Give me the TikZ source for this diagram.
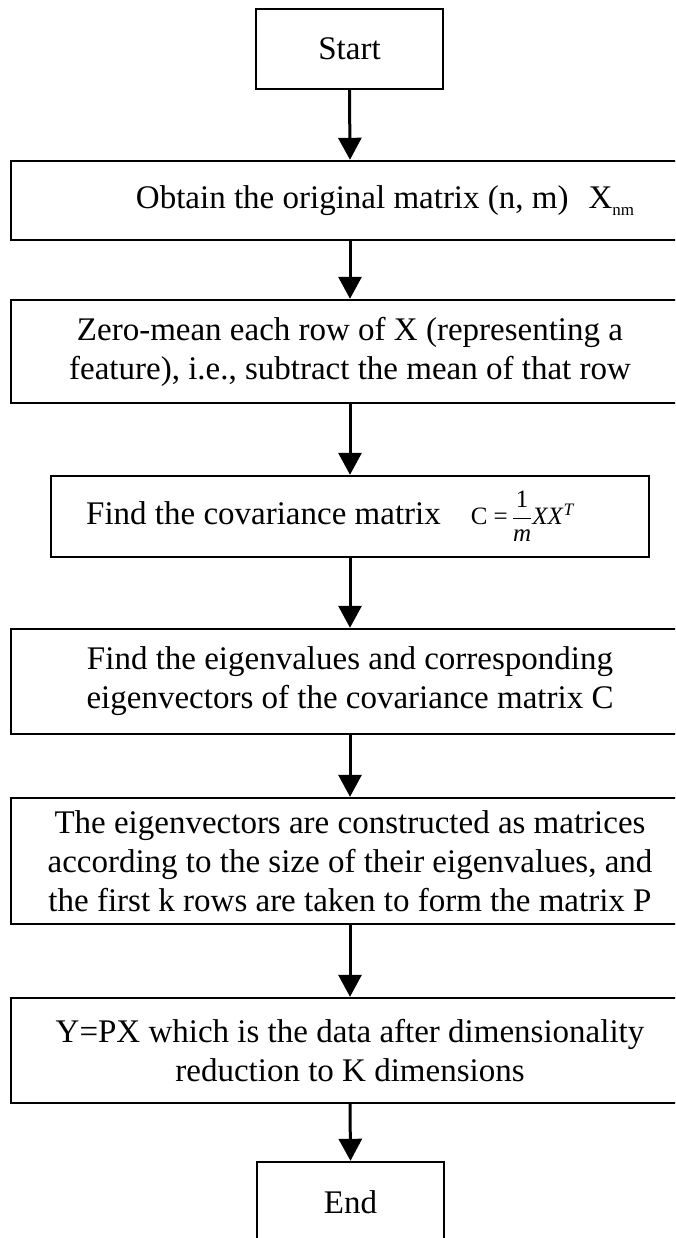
\documentclass[tikz,border=0pt]{standalone}
\usepackage{fontspec}
\setmainfont{Liberation Serif}
\usetikzlibrary{arrows.meta}
\begin{document}
\begin{tikzpicture}[x=1pt,y=-1pt,
  stepbox/.style={draw, line width=2.4pt, inner sep=0pt, align=center,
    font=\fontsize{33}{39}\selectfont},
  termbox/.style={stepbox, minimum width=187pt, minimum height=80pt},
  widebox/.style={stepbox, minimum width=678pt},
  flow/.style={line width=3pt, -{Triangle[length=22pt,width=23pt]}}]
\useasboundingbox (0,0) rectangle (675,1238);
\clip (0,0) rectangle (675,1238);
\fill[white] (0,0) rectangle (675,1238);

\node[termbox] (start) at (349.5,49) {Start};
\node[widebox, minimum height=79pt] (obtain) at (350,200.5)
  {\hspace*{70pt}Obtain the original matrix (n, m)\hspace{20pt}X\raisebox{-7pt}{\fontsize{17}{17}\selectfont nm}};
\node[widebox, minimum height=103pt] (zero) at (350,351.5)
  {Zero-mean each row of X (representing a\\feature), i.e., subtract the mean of that row};
\node[stepbox, minimum width=598pt, minimum height=81pt] (cov) at (350,516.5)
  {Find the covariance matrix\hspace{30pt}{\fontsize{25}{25}\selectfont C =\hspace{4pt}$\displaystyle\frac{\mbox{1}}{\mbox{\itshape m}}$\textit{XX}\textsuperscript{\itshape T}}\hspace*{40pt}};
\node[widebox, minimum height=105pt] (eig) at (350,681.5)
  {Find the eigenvalues and corresponding\\eigenvectors of the covariance matrix C};
\node[widebox, minimum height=126pt] (mat) at (350,861)
  {The eigenvectors are constructed as matrices\\according to the size of their eigenvalues, and\\the first k rows are taken to form the matrix P};
\node[widebox, minimum height=105pt] (proj) at (350,1050.5)
  {Y=PX which is the data after dimensionality\\reduction to K dimensions};
\node[termbox] (end) at (350.5,1202) {End};

\draw[flow] (start.south) -- (obtain.north);
\draw[flow] (obtain.south) -- (zero.north);
\draw[flow] (zero.south) -- (cov.north);
\draw[flow] (cov.south) -- (eig.north);
\draw[flow] (eig.south) -- (mat.north);
\draw[flow] (mat.south) -- (proj.north);
\draw[flow] (proj.south) -- (end.north);
\end{tikzpicture}
\end{document}
